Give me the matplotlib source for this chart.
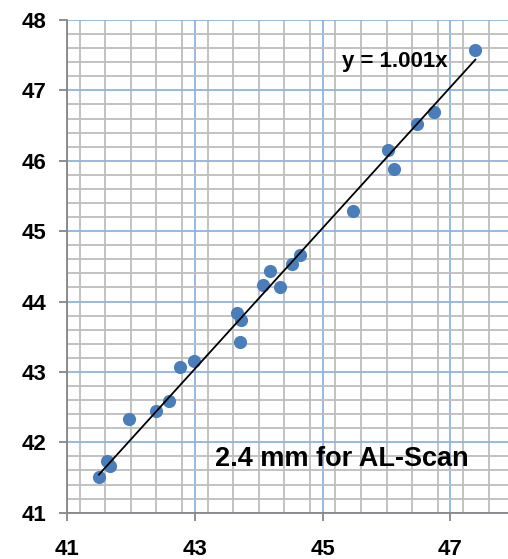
import matplotlib

matplotlib.use("Agg")
import matplotlib.pyplot as plt
from matplotlib.ticker import MultipleLocator

# AL-Scan axial length pairs (mm)
x_vals = [41.50, 41.62, 41.67, 41.97, 42.39, 42.60, 42.77, 42.98,
          43.66, 43.72, 43.71, 44.06, 44.18, 44.34, 44.52, 44.64,
          45.48, 46.03, 46.11, 46.48, 46.74, 47.39]
y_vals = [41.51, 41.73, 41.67, 42.33, 42.44, 42.59, 43.07, 43.15,
          43.84, 43.74, 43.42, 44.24, 44.44, 44.21, 44.53, 44.66,
          45.29, 46.15, 45.89, 46.52, 46.69, 47.58]
slope = 1.001
x_ticks = [41, 43, 45, 47]
y_ticks = [41, 42, 43, 44, 45, 46, 47, 48]

plt.rcParams["font.family"] = ["Liberation Sans", "DejaVu Sans"]
plt.rcParams["font.weight"] = "bold"

fig = plt.figure(figsize=(5.08, 5.59), dpi=100)
ax = fig.add_axes([67 / 508, 46.3 / 559, 441 / 508, 492.7 / 559])

ax.set_xlim(41, 47.9)
ax.set_ylim(41, 48)
ax.set_xticks(x_ticks)
ax.set_yticks(y_ticks)
ax.xaxis.set_minor_locator(MultipleLocator(0.4))
ax.yaxis.set_minor_locator(MultipleLocator(0.2))
ax.grid(which="major", color="#8DB3E2", linewidth=1.3)
ax.grid(which="minor", color="#BDBDBD", linewidth=1.3)
ax.set_axisbelow(True)

for side in ("top", "right"):
    ax.spines[side].set_visible(False)
for side in ("left", "bottom"):
    ax.spines[side].set_color("#868686")
    ax.spines[side].set_linewidth(1.3)

ax.tick_params(which="major", length=6, width=1.3, color="#868686",
               labelsize=16)
ax.tick_params(which="minor", length=0)
ax.tick_params(axis="y", pad=9)
ax.tick_params(axis="x", pad=13)
for label in ax.get_xticklabels() + ax.get_yticklabels():
    label.set_fontweight("bold")

ax.scatter(x_vals, y_vals, s=90, color="#4A7EBB", zorder=3, linewidths=0,
           clip_on=False)

x_line = [min(x_vals), max(x_vals)]
ax.plot(x_line, [slope * v for v in x_line], color="black", linewidth=1.3,
        zorder=4)

ax.text(45.30, 47.41, f"y = {slope:.3f}x", fontsize=16, fontweight="bold",
        va="center", ha="left", zorder=5)
ax.text(43.31, 41.77, "2.4 mm for AL-Scan", fontsize=19.5, fontweight="bold",
        va="center", ha="left", zorder=5)

fig.savefig("out.png", dpi=100)
